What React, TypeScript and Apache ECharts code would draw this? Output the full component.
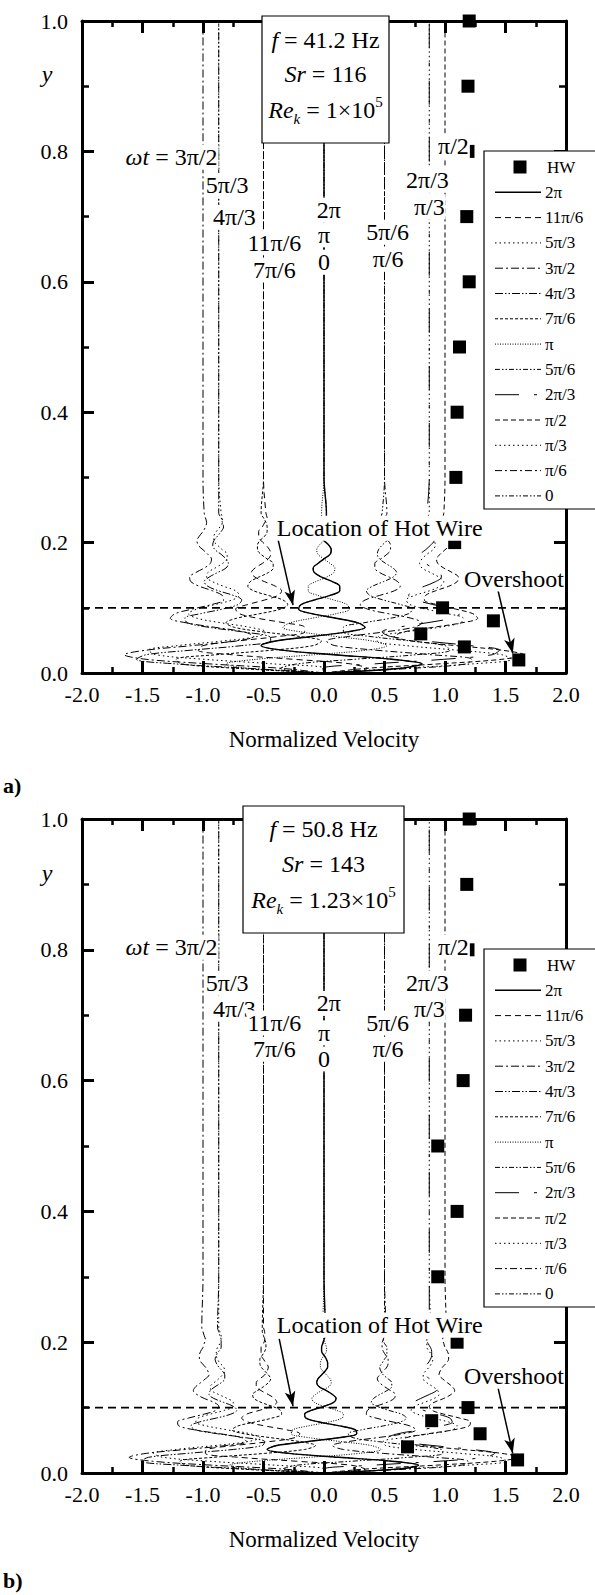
import React, { useEffect, useRef } from "react";
import * as echarts from "echarts";

const FONT = "Liberation Serif";

const phaseNames = ["2π", "11π/6", "5π/3", "3π/2", "4π/3", "7π/6", "π", "5π/6", "2π/3", "π/2", "π/3", "π/6", "0"];
const phaseDash: any[] = ["solid", [6, 4], [1.5, 3], [8, 3, 2, 3], [8, 2, 1.5, 2, 1.5, 2], [3, 2], [1, 1.5], [5, 2, 1.5, 2, 1.5, 2], [24, 15, 3, 15], [5, 3], [1.5, 3], [7, 3, 2, 3], [5, 2, 1.5, 2, 1.5, 2]];
const phaseWidth = [1.4, 1, 1, 1, 1, 1, 1, 1, 1, 1, 1, 1, 1];

const xTicks = [-2, -1.5, -1, -0.5, 0, 0.5, 1, 1.5, 2];
const yTicks = [0, 0.2, 0.4, 0.6, 0.8, 1.0];

// ---------- Panel a) f = 41.2 Hz ----------
const yA = [0, 0.007, 0.014, 0.021, 0.028, 0.035, 0.042, 0.049, 0.056, 0.063, 0.07, 0.077, 0.084, 0.091, 0.098, 0.105, 0.112, 0.119, 0.126, 0.133, 0.14, 0.147, 0.154, 0.161, 0.168, 0.175, 0.182, 0.189, 0.196, 0.203, 0.21, 0.217, 0.224, 0.231, 0.238, 0.245, 0.3, 1];
const a_2pi = [0, .62, .81, .56, .08, -.35, -.52, -.40, -.10, .19, .34, .28, .10, -.10, -.21, -.19, -.08, .05, .13, .13, .07, -.02, -.08, -.09, -.05, 0, .05, .06, .04, 0, -.03, -.04, -.03, -.01, .02, .02, 0, 0];
const a_11pi6 = [0, .36, .22, -.25, -.76, -1.04, -1.00, -.72, -.38, -.16, -.16, -.33, -.55, -.70, -.73, -.63, -.49, -.38, -.35, -.40, -.49, -.57, -.60, -.57, -.51, -.46, -.44, -.45, -.48, -.52, -.54, -.54, -.51, -.49, -.47, -.48, -.5, -.5];
const a_5pi3 = [0, .01, -.42, -.99, -1.39, -1.45, -1.21, -.84, -.55, -.48, -.61, -.85, -1.05, -1.12, -1.05, -.90, -.76, -.70, -.73, -.83, -.92, -.97, -.96, -.90, -.84, -.80, -.80, -.84, -.88, -.91, -.91, -.89, -.86, -.84, -.84, -.85, -.87, -.87];
const a_3pi2 = [0, -.34, -.95, -1.47, -1.65, -1.47, -1.09, -.74, -.58, -.66, -.90, -1.14, -1.27, -1.23, -1.09, -.93, -.83, -.84, -.92, -1.03, -1.10, -1.11, -1.06, -.99, -.94, -.93, -.96, -1.00, -1.04, -1.05, -1.03, -1.00, -.98, -.97, -.98, -.99, -1, -1];
const a_4pi3 = [0, -.61, -1.23, -1.55, -1.47, -1.10, -.68, -.44, -.45, -.67, -.95, -1.13, -1.15, -1.02, -.84, -.71, -.68, -.75, -.87, -.96, -.99, -.95, -.88, -.81, -.79, -.81, -.85, -.90, -.92, -.91, -.88, -.85, -.83, -.84, -.85, -.87, -.87, -.87];
const a_7pi6 = [0, -.71, -1.18, -1.22, -.89, -.43, -.09, -.02, -.20, -.50, -.74, -.81, -.72, -.53, -.36, -.30, -.34, -.46, -.58, -.63, -.61, -.54, -.46, -.42, -.42, -.47, -.52, -.55, -.55, -.53, -.49, -.47, -.47, -.48, -.50, -.52, -.5, -.5];
const a_pi = [0, -.62, -.81, -.56, -.08, .35, .52, .40, .10, -.19, -.34, -.28, -.10, .10, .21, .19, .08, -.05, -.13, -.13, -.07, .02, .08, .09, .05, 0, -.05, -.06, -.04, 0, .03, .04, .03, .01, -.02, -.02, 0, 0];
const a_5pi6 = [0, -.36, -.22, .25, .76, 1.04, 1.00, .72, .38, .16, .16, .33, .55, .70, .73, .63, .49, .38, .35, .40, .49, .57, .60, .57, .51, .46, .44, .45, .48, .52, .54, .54, .51, .49, .47, .48, .5, .5];
const a_2pi3 = [0, -.01, .42, .99, 1.39, 1.45, 1.21, .84, .55, .48, .61, .85, 1.05, 1.12, 1.05, .90, .76, .70, .73, .83, .92, .97, .96, .90, .84, .80, .80, .84, .88, .91, .91, .89, .86, .84, .84, .85, .87, .87];
const a_pi2 = [0, .34, .95, 1.47, 1.65, 1.47, 1.09, .74, .58, .66, .90, 1.14, 1.27, 1.23, 1.09, .93, .83, .84, .92, 1.03, 1.10, 1.11, 1.06, .99, .94, .93, .96, 1.00, 1.04, 1.05, 1.03, 1.00, .98, .97, .98, .99, 1, 1];
const a_pi3 = [0, .61, 1.23, 1.55, 1.47, 1.10, .68, .44, .45, .67, .95, 1.13, 1.15, 1.02, .84, .71, .68, .75, .87, .96, .99, .95, .88, .81, .79, .81, .85, .90, .92, .91, .88, .85, .83, .84, .85, .87, .87, .87];
const a_pi6 = [0, .71, 1.18, 1.22, .89, .43, .09, .02, .20, .50, .74, .81, .72, .53, .36, .30, .34, .46, .58, .63, .61, .54, .46, .42, .42, .47, .52, .55, .55, .53, .49, .47, .47, .48, .50, .52, .5, .5];
const a_0 = [0, .62, .81, .56, .08, -.35, -.52, -.40, -.10, .19, .34, .28, .10, -.10, -.21, -.19, -.08, .05, .13, .13, .07, -.02, -.08, -.09, -.05, 0, .05, .06, .04, 0, -.03, -.04, -.03, -.01, .02, .02, 0, 0];
const hwA = [[1.2, 1.0], [1.19, 0.9], [1.19, 0.8], [1.18, 0.7], [1.2, 0.6], [1.12, 0.5], [1.1, 0.4], [1.09, 0.3], [1.08, 0.2], [0.98, 0.1], [1.4, 0.08], [0.8, 0.06], [1.16, 0.04], [1.61, 0.02]];
const labelTextA = ["{i|ωt} = 3π/2", "5π/3", "4π/3", "11π/6", "7π/6", "2π", "π", "0", "5π/6", "π/6", "2π/3", "π/3", "π/2", "Location of Hot Wire", "Overshoot"];
const labelXA = [-1.26, -0.80, -0.74, -0.41, -0.41, 0.04, 0.0, 0.0, 0.525, 0.53, 0.855, 0.87, 1.07, 0.46, 1.57];
const labelYA = [0.791, 0.748, 0.699, 0.66, 0.618, 0.71, 0.672, 0.63, 0.676, 0.635, 0.756, 0.715, 0.808, 0.222, 0.144];
const arrowsA = [[[-0.38, 0.205], [-0.256, 0.104]], [[1.43, 0.133], [1.56, 0.03]]];
const boxTextA = ["{i|f} = 41.2 Hz", "{i|Sr} = 116", "{i|Re}{sub|k} = 1×10{sup|5}"];

// ---------- Panel b) f = 50.8 Hz ----------
const yB = [0, 0.006, 0.012, 0.018, 0.024, 0.03, 0.036, 0.042, 0.048, 0.054, 0.06, 0.066, 0.072, 0.078, 0.084, 0.09, 0.096, 0.102, 0.108, 0.114, 0.12, 0.126, 0.132, 0.138, 0.144, 0.15, 0.156, 0.162, 0.168, 0.174, 0.18, 0.186, 0.192, 0.198, 0.204, 0.21, 0.216, 0.222, 0.3, 1];
const b_2pi = [0, .60, .78, .56, .12, -.29, -.47, -.39, -.14, .12, .27, .26, .13, -.04, -.15, -.16, -.10, 0, .08, .10, .07, .02, -.04, -.06, -.05, -.02, .01, .03, .03, .02, 0, -.02, -.02, -.01, 0, .01, .01, .01, 0, 0];
const b_11pi6 = [0, .34, .22, -.23, -.70, -.98, -.97, -.74, -.45, -.24, -.20, -.31, -.49, -.63, -.68, -.64, -.53, -.44, -.39, -.41, -.46, -.52, -.56, -.56, -.53, -.49, -.47, -.46, -.48, -.50, -.52, -.52, -.52, -.50, -.49, -.49, -.49, -.50, -.5, -.5];
const b_5pi3 = [0, 0, -.41, -.95, -1.33, -1.41, -1.22, -.90, -.63, -.53, -.61, -.80, -.97, -1.06, -1.04, -.94, -.82, -.75, -.75, -.80, -.87, -.93, -.94, -.91, -.87, -.84, -.82, -.83, -.86, -.88, -.89, -.89, -.88, -.86, -.85, -.85, -.86, -.87, -.87, -.87];
const b_3pi2 = [0, -.34, -.93, -1.42, -1.61, -1.47, -1.14, -.81, -.64, -.68, -.86, -1.07, -1.20, -1.21, -1.12, -.99, -.89, -.87, -.91, -.99, -1.05, -1.08, -1.06, -1.02, -.98, -.95, -.96, -.98, -1.01, -1.03, -1.03, -1.02, -1.00, -.99, -.98, -.99, -1.00, -1.01, -1, -1];
const b_4pi3 = [0, -.60, -1.19, -1.51, -1.45, -1.13, -.75, -.51, -.49, -.65, -.88, -1.06, -1.10, -1.03, -.89, -.77, -.72, -.75, -.83, -.91, -.95, -.94, -.90, -.85, -.82, -.82, -.84, -.87, -.89, -.90, -.89, -.87, -.85, -.85, -.85, -.86, -.87, -.88, -.87, -.87];
const b_7pi6 = [0, -.69, -1.14, -1.19, -.91, -.49, -.16, -.07, -.20, -.44, -.66, -.76, -.71, -.57, -.43, -.35, -.36, -.43, -.52, -.58, -.59, -.55, -.50, -.46, -.44, -.46, -.49, -.52, -.53, -.53, -.51, -.49, -.48, -.48, -.49, -.50, -.51, -.51, -.5, -.5];
const b_pi = [0, -.60, -.78, -.56, -.12, .29, .47, .39, .14, -.12, -.27, -.26, -.13, .04, .15, .16, .10, 0, -.08, -.10, -.07, -.02, .04, .06, .05, .02, -.01, -.03, -.03, -.02, 0, .02, .02, .01, 0, -.01, -.01, -.01, 0, 0];
const b_5pi6 = [0, -.34, -.22, .23, .70, .98, .97, .74, .45, .24, .20, .31, .49, .63, .68, .64, .53, .44, .39, .41, .46, .52, .56, .56, .53, .49, .47, .46, .48, .50, .52, .52, .52, .50, .49, .49, .49, .50, .5, .5];
const b_2pi3 = [0, 0, .41, .95, 1.33, 1.41, 1.22, .90, .63, .53, .61, .80, .97, 1.06, 1.04, .94, .82, .75, .75, .80, .87, .93, .94, .91, .87, .84, .82, .83, .86, .88, .89, .89, .88, .86, .85, .85, .86, .87, .87, .87];
const b_pi2 = [0, .34, .93, 1.42, 1.61, 1.47, 1.14, .81, .64, .68, .86, 1.07, 1.20, 1.21, 1.12, .99, .89, .87, .91, .99, 1.05, 1.08, 1.06, 1.02, .98, .95, .96, .98, 1.01, 1.03, 1.03, 1.02, 1.00, .99, .98, .99, 1.00, 1.01, 1, 1];
const b_pi3 = [0, .60, 1.19, 1.51, 1.45, 1.13, .75, .51, .49, .65, .88, 1.06, 1.10, 1.03, .89, .77, .72, .75, .83, .91, .95, .94, .90, .85, .82, .82, .84, .87, .89, .90, .89, .87, .85, .85, .85, .86, .87, .88, .87, .87];
const b_pi6 = [0, .69, 1.14, 1.19, .91, .49, .16, .07, .20, .44, .66, .76, .71, .57, .43, .35, .36, .43, .52, .58, .59, .55, .50, .46, .44, .46, .49, .52, .53, .53, .51, .49, .48, .48, .49, .50, .51, .51, .5, .5];
const b_0 = [0, .60, .78, .56, .12, -.29, -.47, -.39, -.14, .12, .27, .26, .13, -.04, -.15, -.16, -.10, 0, .08, .10, .07, .02, -.04, -.06, -.05, -.02, .01, .03, .03, .02, 0, -.02, -.02, -.01, 0, .01, .01, .01, 0, 0];
const hwB = [[1.2, 1.0], [1.18, 0.9], [1.19, 0.8], [1.17, 0.7], [1.15, 0.6], [0.94, 0.5], [1.1, 0.4], [0.94, 0.3], [1.1, 0.2], [1.19, 0.1], [0.89, 0.08], [1.29, 0.06], [0.69, 0.04], [1.6, 0.02]];
const labelTextB = ["{i|ωt} = 3π/2", "5π/3", "4π/3", "11π/6", "7π/6", "2π", "π", "0", "5π/6", "π/6", "2π/3", "π/3", "π/2", "Location of Hot Wire", "Overshoot"];
const labelXB = [-1.26, -0.80, -0.74, -0.41, -0.41, 0.04, 0.0, 0.0, 0.525, 0.53, 0.855, 0.87, 1.07, 0.46, 1.57];
const labelYB = [0.804, 0.749, 0.709, 0.688, 0.648, 0.718, 0.673, 0.633, 0.688, 0.648, 0.749, 0.709, 0.804, 0.226, 0.148];
const arrowsB = [[[-0.37, 0.205], [-0.256, 0.102]], [[1.43, 0.137], [1.56, 0.03]]];
const boxTextB = ["{i|f} = 50.8 Hz", "{i|Sr} = 143", "{i|Re}{sub|k} = 1.23×10{sup|5}"];

const hotWireX = [-2, 2];
const hotWireY = [0.1, 0.1];

const curvesA = [a_2pi, a_11pi6, a_5pi3, a_3pi2, a_4pi3, a_7pi6, a_pi, a_5pi6, a_2pi3, a_pi2, a_pi3, a_pi6, a_0];
const curvesB = [b_2pi, b_11pi6, b_5pi3, b_3pi2, b_4pi3, b_7pi6, b_pi, b_5pi6, b_2pi3, b_pi2, b_pi3, b_pi6, b_0];

function axisPair(gi: number) {
  const common = {
    gridIndex: gi,
    type: "value",
    axisLine: { show: true, onZero: false, lineStyle: { color: "#000", width: 3 } },
    splitLine: { show: false },
    minorSplitLine: { show: false },
  };
  const x = (pos: string, labels: boolean) => ({
    ...common,
    position: pos,
    min: xTicks[0],
    max: xTicks[xTicks.length - 1],
    interval: 0.5,
    axisTick: { show: true, inside: true, length: 12, lineStyle: { color: "#000", width: 3 } },
    minorTick: { show: true, splitNumber: 2, length: 6, lineStyle: { color: "#000", width: 2.5 } },
    axisLabel: { show: labels, formatter: (v: number) => v.toFixed(1), fontFamily: FONT, fontSize: 22, color: "#000", margin: 10 },
    name: labels ? "Normalized Velocity" : "",
    nameLocation: "middle",
    nameGap: 55,
    nameTextStyle: { fontFamily: FONT, fontSize: 23, color: "#000" },
  });
  const y = (pos: string, labels: boolean) => ({
    ...common,
    position: pos,
    min: yTicks[0],
    max: yTicks[yTicks.length - 1],
    interval: 0.2,
    axisTick: { show: true, inside: true, length: 12, lineStyle: { color: "#000", width: 3 } },
    minorTick: { show: true, splitNumber: 2, length: 7, lineStyle: { color: "#000", width: 2.5 } },
    axisLabel: { show: labels, formatter: (v: number) => v.toFixed(1), fontFamily: FONT, fontSize: 22, color: "#000", margin: 14 },
  });
  return { xs: [x("bottom", true), x("top", false)], ys: [y("left", true), y("right", false)] };
}

function panelSeries(p: number, yGrid: number[], curves: number[][], hw: number[][], lt: string[], lx: number[], ly: number[], arrows: number[][][]) {
  const xi = p * 2;
  const yi = p * 2;
  const s: any[] = [];
  curves.forEach((c, k) => {
    s.push({
      type: "line",
      name: phaseNames[k],
      xAxisIndex: xi,
      yAxisIndex: yi,
      data: c.map((x, i) => [x, yGrid[i]]),
      symbol: "none",
      showSymbol: false,
      smooth: 0.35,
      silent: true,
      clip: true,
      z: 3,
      lineStyle: { color: "#000", width: phaseWidth[k], type: phaseDash[k] },
    });
  });
  s.push({
    type: "line",
    xAxisIndex: xi,
    yAxisIndex: yi,
    data: hotWireX.map((x, i) => [x, hotWireY[i]]),
    symbol: "none",
    silent: true,
    z: 3,
    lineStyle: { color: "#000", width: 1.8, type: [8, 5] },
  });
  s.push({
    type: "scatter",
    name: "HW",
    xAxisIndex: xi,
    yAxisIndex: yi,
    data: hw,
    symbol: "rect",
    symbolSize: 13,
    silent: true,
    z: 5,
    itemStyle: { color: "#000", opacity: 1 },
  });
  s.push({
    type: "scatter",
    xAxisIndex: xi,
    yAxisIndex: yi,
    data: lt.map((t, i) => ({ name: t, value: [lx[i], ly[i]] })),
    symbolSize: 1,
    silent: true,
    z: 10,
    itemStyle: { color: "#fff", opacity: 1 },
    label: {
      show: true,
      position: "inside",
      formatter: (pp: any) => pp.name,
      fontFamily: FONT,
      fontSize: 24,
      lineHeight: 25,
      color: "#000",
      opacity: 1,
      textBorderWidth: 0,
      textShadowBlur: 0,
      backgroundColor: "#fff",
      padding: [0, 1],
      rich: { i: { fontFamily: FONT, fontSize: 24, fontStyle: "italic", color: "#000", lineHeight: 25, textBorderWidth: 0 } },
    },
    markLine: {
      silent: true,
      symbol: ["none", "arrow"],
      symbolSize: [8, 15],
      label: { show: false },
      lineStyle: { color: "#000", width: 1.5, type: "solid", opacity: 1 },
      data: arrows.map((a) => [{ coord: a[0] }, { coord: a[1] }]),
    },
  });
  return s;
}

function boxGraphics(bx: number, by: number, bw: number, texts: string[], ty: number[]) {
  const els: any[] = [
    { type: "rect", z: 100, shape: { x: bx, y: by, width: bw, height: 127 }, style: { fill: "#fff", stroke: "#000", lineWidth: 1.2 } },
  ];
  texts.forEach((t, i) => {
    els.push({
      type: "text",
      z: 101,
      x: bx + bw / 2,
      y: ty[i],
      style: {
        text: t,
        align: "center",
        verticalAlign: "middle",
        fontFamily: FONT,
        fontSize: 24,
        lineHeight: 32,
        fill: "#000",
        rich: {
          i: { fontFamily: FONT, fontSize: 24, fontStyle: "italic", fill: "#000", lineHeight: 32 },
          sub: { fontFamily: FONT, fontSize: 15, fontStyle: "italic", fill: "#000", verticalAlign: "bottom", lineHeight: 15 },
          sup: { fontFamily: FONT, fontSize: 15, fill: "#000", verticalAlign: "top", lineHeight: 15 },
        },
      },
    });
  });
  return els;
}

function legendGraphics(top: number) {
  const els: any[] = [
    { type: "rect", z: 100, shape: { x: 484, y: top, width: 140, height: 358 }, style: { fill: "#fff", stroke: "#000", lineWidth: 1.2 } },
  ];
  const r0 = top + 16;
  els.push({ type: "rect", z: 101, shape: { x: 513.5, y: r0 - 6.5, width: 13, height: 13 }, style: { fill: "#000" } });
  els.push({ type: "text", z: 101, x: 547, y: r0, style: { text: "HW", fontFamily: FONT, fontSize: 17, fill: "#000", align: "left", verticalAlign: "middle" } });
  phaseNames.forEach((n, k) => {
    const yy = r0 + 25.3 * (k + 1);
    els.push({
      type: "line",
      z: 101,
      shape: { x1: 495, y1: yy, x2: 541, y2: yy },
      style: { stroke: "#000", lineWidth: phaseWidth[k], lineDash: phaseDash[k] === "solid" ? null : phaseDash[k] },
    });
    els.push({ type: "text", z: 101, x: 545, y: yy, style: { text: n, fontFamily: FONT, fontSize: 17, fill: "#000", align: "left", verticalAlign: "middle" } });
  });
  return els;
}

function buildOption() {
  const a = axisPair(0);
  const b = axisPair(1);
  const textEl = (t: string, x: number, y: number, extra: any) => ({
    type: "text",
    z: 101,
    x,
    y,
    style: { text: t, fontFamily: FONT, fontSize: 22, fill: "#000", align: "center", verticalAlign: "middle", ...extra },
  });
  return {
    animation: false,
    backgroundColor: "#fff",
    grid: [
      { left: 82, top: 21, width: 484, height: 652 },
      { left: 82, top: 819, width: 484, height: 654 },
    ],
    xAxis: [...a.xs, ...b.xs],
    yAxis: [...a.ys, ...b.ys],
    series: [
      ...panelSeries(0, yA, curvesA, hwA, labelTextA, labelXA, labelYA, arrowsA),
      ...panelSeries(1, yB, curvesB, hwB, labelTextB, labelXB, labelYB, arrowsB),
    ],
    graphic: [
      ...boxGraphics(262, 16, 127, boxTextA, [40, 74, 110]),
      ...boxGraphics(243, 806, 161, boxTextB, [829, 864, 900]),
      ...legendGraphics(151),
      ...legendGraphics(949),
      textEl("y", 47, 74, { fontStyle: "italic", fontSize: 24 }),
      textEl("y", 47, 873, { fontStyle: "italic", fontSize: 24 }),
      textEl("a)", 3, 785, { fontWeight: "bold", align: "left" }),
      textEl("b)", 3, 1580, { fontWeight: "bold", align: "left" }),
    ],
  };
}

export default function App() {
  const ref = useRef<HTMLDivElement>(null);
  useEffect(() => {
    document.body.style.margin = "0";
    document.body.style.overflow = "hidden";
    const chart = echarts.init(ref.current as HTMLDivElement, null, { renderer: "svg" });
    chart.setOption(buildOption() as any);
    return () => chart.dispose();
  }, []);
  return <div ref={ref} style={{ width: 595, height: 1595 }} />;
}
